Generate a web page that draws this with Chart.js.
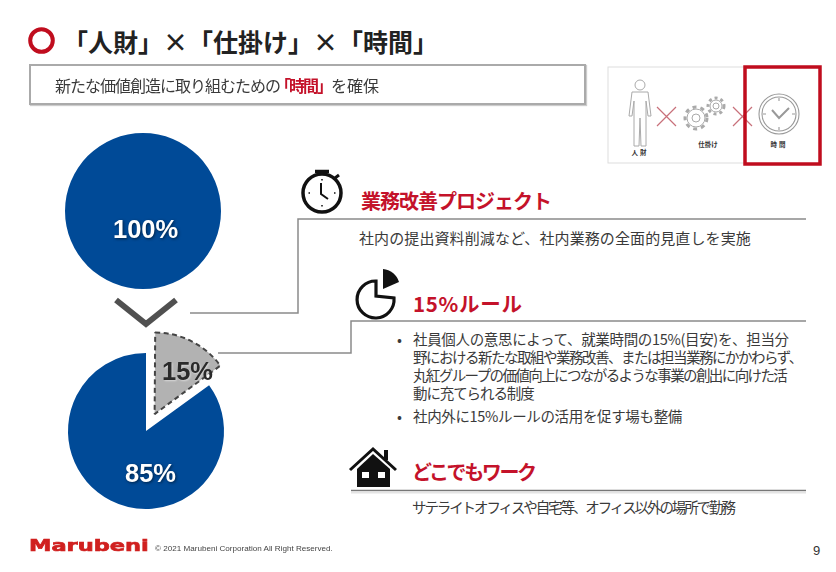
<!DOCTYPE html>
<html lang="ja">
<head>
<meta charset="utf-8">
<script src="https://cdn.jsdelivr.net/npm/chart.js@4"></script>
<style>
  html, body { margin: 0; padding: 0; background: #fff; }
  #page { position: relative; width: 836px; height: 572px; overflow: hidden; font-family: "Noto Sans CJK JP", sans-serif; color: #333; }
  #page canvas { position: absolute; }
  svg { position: absolute; left: 0; top: 0; }
  .t { position: absolute; white-space: nowrap; line-height: 1; transform: translateY(-50%); }
  .head { font-weight: 700; color: #c4122a; font-size: 20px; }
  .body { font-size: 14.5px; color: #3a3a3a; }
  .pct { font-family: "Liberation Sans", sans-serif; font-weight: 700; font-size: 25.5px; color: #fff; text-shadow: 1px 1px 3px rgba(0,0,0,.55); }
  .box { position: absolute; box-sizing: border-box; }
</style>
</head>
<body>
<div id="page">
  <svg width="836" height="572" fill="none">
    <!-- title ring -->
    <circle cx="41.5" cy="40.5" r="11.3" stroke="#c00d1e" stroke-width="4"/>
    <!-- connectors -->
    <polyline points="190,313 298,313 298,219 806,219" stroke="#8a8a8a" stroke-width="1.5"/>
    <polyline points="218,353 351,353 351,321 806,321" stroke="#8a8a8a" stroke-width="1.5"/>
    <line x1="351" y1="490.5" x2="806" y2="490.5" stroke="#777" stroke-width="1.5"/>
    <line x1="351" y1="492.5" x2="806" y2="492.5" stroke="#e4e4e4" stroke-width="2"/>
    <!-- chevron -->
    <polyline points="116,300 146,324 176,300" stroke="#505050" stroke-width="6"/>
    <!-- stopwatch -->
    <g stroke="#111" stroke-width="3.5">
      <circle cx="322" cy="193" r="19"/>
      <line x1="315" y1="171.5" x2="329" y2="171.5" stroke-width="3.5"/>
      <line x1="322" y1="172" x2="322" y2="175"/>
      <line x1="335" y1="178" x2="339" y2="175" stroke-width="3"/>
      <polyline points="321,183 321,194 328,199" stroke-width="2"/>
      <path d="M322,179 v1.5 M322,205 v1.5 M308.5,193 h1.5 M334,193 h1.5" stroke-width="1.5"/>
    </g>
    <!-- pie icon -->
    <path d="M376,280 A18.5,18.5 0 1 0 394,297 L376,295 Z" stroke="#111" stroke-width="3.2" transform="translate(0,1)"/>
    <path d="M383,269 A18,18 0 0 1 399,282 L383,289 Z" fill="#111"/>
    <!-- house -->
    <path d="M350,470 L373,449 L396,470" stroke="#111" stroke-width="3"/>
    <path d="M373,454 L390,469 V487 H357 V469 Z" fill="#111"/>
    <rect x="362" y="472" width="7" height="6" fill="#fff"/>
    <rect x="378" y="472" width="7" height="6" fill="#fff"/>
    <rect x="384" y="450" width="4" height="10" fill="#111"/>
    <!-- small panel, person -->
    <rect x="608" y="67" width="137" height="96" stroke="#ddd" stroke-width="1"/>
    <g stroke="#aaa" stroke-width="1">
      <circle cx="640" cy="85" r="5"/>
      <path d="M632,92 H648 L651,116 H648 L646,101 V146 H641 L640,118 L639,146 H634 V101 L632,116 H629 Z"/>
    </g>
    <!-- gears -->
    <g stroke="#aaa" stroke-width="1">
      <circle cx="696" cy="118" r="9"/>
      <circle cx="696" cy="118" r="11" stroke-dasharray="4 4" stroke-width="3"/>
      <circle cx="696" cy="118" r="4"/>
      <circle cx="716" cy="106" r="6"/>
      <circle cx="716" cy="106" r="8" stroke-dasharray="3 3" stroke-width="3"/>
      <circle cx="716" cy="106" r="3"/>
    </g>
    <g stroke="#c8707a" stroke-width="1.2">
      <path d="M657,107 L676,126 M676,107 L657,126"/>
      <path d="M733,107 L752,126 M752,107 L733,126"/>
    </g>
    <!-- clock -->
    <g stroke="#999" stroke-width="1.1">
      <circle cx="779" cy="114" r="20"/>
      <circle cx="779" cy="114" r="17"/>
      <polyline points="772,110 779,118 789,108" stroke-width="2"/>
      <path d="M779,98 v3 M779,127 v3 M763,114 h3 M792,114 h3"/>
    </g>
    <rect x="745" y="67" width="75" height="97" stroke="#c00d1e" stroke-width="3.5"/>
  </svg>

  <canvas id="pieBefore" width="240" height="240" style="left:23px;top:91px"></canvas>
  <canvas id="pieAfter" width="240" height="240" style="left:25.5px;top:311px"></canvas>

  <div class="t" id="title" style="left:63px;top:41px;font-size:25px;font-weight:700;color:#222">「人財」×「仕掛け」×「時間」</div>
  <div class="box" style="left:29px;top:64px;width:557px;height:41px;border:2px solid #aaa;box-shadow:1px 1px 1px #ccc"></div>
  <div class="t" style="left:55px;top:85px;font-size:16px;color:#3a3a3a"><span style="letter-spacing:-1px">新たな価値創造に取り組むための</span><span style="font-weight:700;color:#c4122a;letter-spacing:-2px;margin-left:-5px">「時間」</span>を確保</div>

  <div class="t pct" id="lblBefore" style="left:113px;top:230px"></div>
  <div class="t pct" id="lblAfter" style="left:125px;top:474px"></div>
  <div class="t pct" id="lblSlice" style="left:162px;top:372px;color:#2a2a2a;text-shadow:1px 1px 2px rgba(255,255,255,.5)"></div>

  <div class="t head" style="left:361px;top:201px;letter-spacing:-1px">業務改善プロジェクト</div>
  <div class="t body" style="left:359px;top:237px;font-size:15px;letter-spacing:.1px">社内の提出資料削減など、社内業務の全面的見直しを実施</div>

  <div class="t head" style="left:413px;top:303px;font-size:20.5px;letter-spacing:.7px">15%ルール</div>
  <div class="t body" style="left:397px;top:339px">•</div>
  <div class="t body" style="left:413px;top:339px;letter-spacing:-.33px">社員個人の意思によって、就業時間の15%(目安)を、担当分</div>
  <div class="t body" style="left:413px;top:357px;letter-spacing:-1.5px">野における新たな取組や業務改善、または担当業務にかかわらず、</div>
  <div class="t body" style="left:413px;top:375px;letter-spacing:-1.6px">丸紅グループの価値向上につながるような事業の創出に向けた活</div>
  <div class="t body" style="left:413px;top:393px;letter-spacing:-1.1px">動に充てられる制度</div>
  <div class="t body" style="left:397px;top:416px">•</div>
  <div class="t body" style="left:413px;top:416px;letter-spacing:-.35px">社内外に15%ルールの活用を促す場も整備</div>

  <div class="t head" style="left:412px;top:472px;letter-spacing:-2.4px">どこでもワーク</div>
  <div class="t body" style="left:412px;top:507px;letter-spacing:-2.1px">サテライトオフィスや自宅等、オフィス以外の場所で勤務</div>

  <div class="t" style="left:640px;top:152px;font-size:6.5px;font-weight:700;color:#333;letter-spacing:2px;transform:translate(-50%,-50%)">人財</div>
  <div class="t" style="left:708px;top:144px;font-size:6.5px;font-weight:700;color:#333;transform:translate(-50%,-50%)">仕掛け</div>
  <div class="t" style="left:779px;top:144px;font-size:6.5px;font-weight:700;color:#333;letter-spacing:2px;transform:translate(-50%,-50%)">時間</div>

  <div class="t" style="left:29px;top:546px;font-family:'DejaVu Sans';font-weight:700;font-size:15px;color:#d0201f;-webkit-text-stroke:.6px #d0201f;transform:translateY(-50%) scaleX(1.5);transform-origin:left center">Marubeni</div>
  <div class="t" style="left:155px;top:549px;font-family:'Liberation Sans';font-size:8.1px;color:#444">© 2021 Marubeni Corporation All Right Reserved.</div>
  <div class="t" style="left:813px;top:550px;font-family:'Liberation Sans';font-size:13px;color:#333">9</div>
</div>

<script>
  // values
  const beforeLabels = ['100%'];
  const beforeValues = [100];
  const afterLabels = ['15%', '85%'];
  const afterValues = [15, 85];
  const blue = '#004a97';
  const grey = '#b2b2b2';

  const pieOptions = (pad) => ({
    responsive: false,
    animation: false,
    events: [],
    layout: { padding: pad },
    plugins: { legend: { display: false }, tooltip: { enabled: false } }
  });

  new Chart(document.getElementById('pieBefore'), {
    type: 'pie',
    data: {
      labels: beforeLabels,
      datasets: [{ data: beforeValues, backgroundColor: [blue], borderWidth: 0 }]
    },
    options: pieOptions(42)
  });

  // the 15% slice is pulled out along its own mid angle, with a dashed edge
  // (Chart.js moves an arc by offset / 4, so 76 gives the 19px of the picture)
  new Chart(document.getElementById('pieAfter'), {
    type: 'pie',
    data: {
      labels: afterLabels,
      datasets: [{
        data: afterValues,
        backgroundColor: [grey, blue],
        borderColor: ['#444444', blue],
        borderWidth: [2, 0],
        borderDash: (c) => (c.dataIndex === 0 ? [5, 3.5] : []),
        offset: [76, 0],
        clip: false
      }]
    },
    options: pieOptions(3)
  });

  document.getElementById('lblBefore').textContent = beforeLabels[0];
  document.getElementById('lblAfter').textContent = afterLabels[1];
  document.getElementById('lblSlice').textContent = afterLabels[0];
</script>
</body>
</html>
